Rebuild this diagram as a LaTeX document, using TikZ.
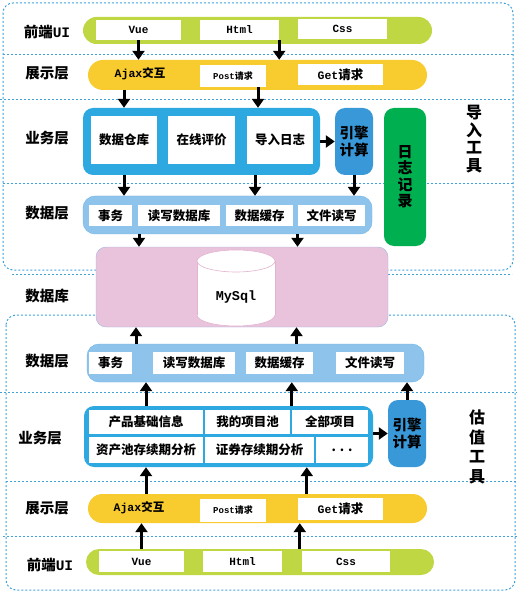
\documentclass[tikz,border=0pt]{standalone}
\usepackage{fontspec}
\setmainfont{Noto Sans CJK SC}
\newfontfamily\monofam{Liberation Mono}
\usetikzlibrary{arrows.meta}
\definecolor{dashc}{HTML}{3FA3D9}
\definecolor{limec}{HTML}{BED742}
\definecolor{yelc}{HTML}{F8CB2E}
\definecolor{bizc}{HTML}{2EA8E0}
\definecolor{engc}{HTML}{3898D8}
\definecolor{logc}{HTML}{00AF50}
\definecolor{datc}{HTML}{8EC4EC}
\definecolor{datb}{HTML}{6DB3E8}
\definecolor{pinkf}{HTML}{E9C3DB}
\definecolor{pinkb}{HTML}{9FB5E3}
\definecolor{cylb}{HTML}{E3B3CF}
\newcommand\mnt[1]{{\monofam\bfseries #1}}
\tikzset{
  every node/.style={inner sep=0pt},
  layer/.style={font=\fontsize{14.5}{16}\selectfont\bfseries},
  wbox/.style={fill=white, font=\fontsize{12.5}{14}\selectfont\bfseries},
  mbox/.style={fill=white, font=\fontsize{11}{13}\selectfont\bfseries},
  arr/.style={black, line width=3pt, -{Triangle[length=9pt,width=12pt]}},
  dline/.style={dashc, line width=1pt, dash pattern=on 2pt off 2pt},
  bar/.style={rounded corners=#1},
  vtext/.style={align=center, font=\fontsize{16}{17.5}\selectfont\bfseries},
}
\begin{document}
\begin{tikzpicture}[x=1pt,y=-1pt]
\useasboundingbox (0,0) rectangle (529,601);
% dashed frames
\draw[dline, rounded corners=10] (3,3) rectangle (513,270);
\draw[dline] (3,55) -- (513,55);
\draw[dline] (0,100) -- (513,100);
\draw[dline] (3,184) -- (513,184);
\draw[dline] (12,274) -- (512,274);
\draw[dline, rounded corners=10] (6,315) rectangle (515,590);
\draw[dline] (0,392) -- (517,392);
\draw[dline] (6,481) -- (517,481);
\draw[dline] (3,536) -- (517,536);

% layer labels
\node[layer] (l1) at (47,32) {前端\mnt{UI}};
\node[layer] (l2) at (47,73) {展示层};
\node[layer] (l3) at (47,138) {业务层};
\node[layer] (l4) at (47,213) {数据层};
\node[layer] (l5) at (47,296) {数据库};
\node[layer] (l6) at (47,361) {数据层};
\node[layer] (l7) at (40,438) {业务层};
\node[layer] (l8) at (47,508) {展示层};
\node[layer] (l9) at (50,565) {前端\mnt{UI}};

% ===== top: 前端UI
\node[bar=13.5, fill=limec, minimum width=349, minimum height=27] (qd1) at (257.5,30.5) {};
\node[mbox, minimum width=85, minimum height=20] (vue1) at (138.5,30) {\mnt{Vue}};
\node[mbox, minimum width=79, minimum height=20] (html1) at (239.5,30) {\mnt{Html}};
\node[mbox, minimum width=89, minimum height=20] (css1) at (342.5,29) {\mnt{Css}};
% 展示层
\node[bar=15, fill=yelc, minimum width=339, minimum height=30] (zs1) at (257.5,75) {};
\node[font=\fontsize{13.5}{15}\selectfont\bfseries] (ajax1) at (140,74) {\fontsize{11.5}{13}\selectfont\mnt{Ajax}交互};
\node[fill=white, minimum width=66, minimum height=22, font=\fontsize{9}{10}\selectfont\bfseries] (post1) at (233,76) {\mnt{Post}请求};
\node[fill=white, minimum width=85, minimum height=21, font=\fontsize{12.5}{14}\selectfont\bfseries] (get1) at (340.5,74.5) {{\fontsize{11.5}{13}\selectfont\mnt{Get}}请求};
% 业务层
\node[bar=10, fill=bizc, minimum width=237, minimum height=67] (yw1) at (201.5,141.5) {};
\node[wbox, minimum width=66, minimum height=48] (sjck1) at (124,140) {数据仓库};
\node[wbox, minimum width=67, minimum height=48] (zxpj1) at (201.5,140) {在线评价};
\node[wbox, minimum width=66, minimum height=48] (drrz1) at (280,140) {导入日志};
\node[bar=10, fill=engc, minimum width=38, minimum height=67, align=center, font=\fontsize{14.5}{16.5}\selectfont\bfseries] (yq1) at (354,141.5) {引擎\\计算};
\node[bar=10, fill=logc, minimum width=42, minimum height=138, align=center, font=\fontsize{15}{16.5}\selectfont\bfseries] (rz1) at (405,177) {日\\志\\记\\录};
\node[vtext] (drgj) at (474,139) {导\\入\\工\\具};
% 数据层
\node[bar=12, fill=datc, draw=datb, minimum width=289, minimum height=38] (sj1) at (227.5,215) {};
\node[wbox, minimum width=43, minimum height=21] (sw1) at (110.5,215.5) {事务};
\node[wbox, minimum width=82, minimum height=21] (dx1) at (179,215.5) {读写数据库};
\node[wbox, minimum width=67, minimum height=21] (hc1) at (259.5,215.5) {数据缓存};
\node[wbox, minimum width=67, minimum height=21] (wj1) at (331.5,215.5) {文件读写};

% ===== 数据库
\node[bar=10, fill=pinkf, draw=pinkb, minimum width=292, minimum height=80] (db) at (242,287) {};
\fill[white] (236,315) ellipse[x radius=39, y radius=11];
\fill[white] (197,261) rectangle (275,315);
\begin{scope}
\clip (150,315) rectangle (320,340);
\draw[cylb, line width=0.6pt] (236,315) ellipse[x radius=39, y radius=11];
\end{scope}
\draw[cylb, line width=0.6pt] (197,261) -- (197,315) (275,261) -- (275,315);
\draw[cylb, line width=0.6pt, fill=white] (236,261) ellipse[x radius=39, y radius=11];
\node[font=\fontsize{13.5}{15}\selectfont] (mysql) at (236,297) {\mnt{MySql}};

% ===== bottom: 数据层
\node[bar=12, fill=datc, draw=datb, minimum width=337, minimum height=38] (sj2) at (255.5,363) {};
\node[wbox, minimum width=43, minimum height=22] (sw2) at (110.5,363) {事务};
\node[wbox, minimum width=82, minimum height=22] (dx2) at (194,363) {读写数据库};
\node[wbox, minimum width=67, minimum height=22] (hc2) at (279.5,363) {数据缓存};
\node[wbox, minimum width=68, minimum height=22] (wj2) at (370,363) {文件读写};
% 业务层
\node[bar=10, fill=bizc, minimum width=289, minimum height=61] (yw2) at (228.5,436.5) {};
\node[wbox, minimum width=114, minimum height=24] (cp2) at (146,422) {产品基础信息};
\node[wbox, minimum width=85, minimum height=24] (wd2) at (247.5,422) {我的项目池};
\node[wbox, minimum width=76, minimum height=24] (qb2) at (330,422) {全部项目};
\node[wbox, minimum width=114, minimum height=26] (zc2) at (146,450) {资产池存续期分析};
\node[wbox, minimum width=109, minimum height=26] (zq2) at (259.5,450) {证券存续期分析};
\node[wbox, minimum width=52, minimum height=26] (dd2) at (342,450) {. . .};
\node[bar=10, fill=engc, minimum width=38, minimum height=67, align=center, font=\fontsize{14.5}{16.5}\selectfont\bfseries] (yq2) at (407,433.5) {引擎\\计算};
\node[vtext, font=\fontsize{16}{19.5}\selectfont\bfseries] (gzgj) at (477,447) {估\\值\\工\\具};
% 展示层
\node[bar=14.5, fill=yelc, minimum width=339, minimum height=29] (zs2) at (257.5,508.5) {};
\node[font=\fontsize{13.5}{15}\selectfont\bfseries] (ajax2) at (139,508) {\fontsize{11.5}{13}\selectfont\mnt{Ajax}交互};
\node[fill=white, minimum width=66, minimum height=23, font=\fontsize{9}{10}\selectfont\bfseries] (post2) at (233,510.5) {\mnt{Post}请求};
\node[fill=white, minimum width=85, minimum height=22, font=\fontsize{12.5}{14}\selectfont\bfseries] (get2) at (340.5,509) {{\fontsize{11.5}{13}\selectfont\mnt{Get}}请求};
% 前端UI
\node[bar=13, fill=limec, minimum width=348, minimum height=26] (qd2) at (260,562) {};
\node[mbox, minimum width=85, minimum height=21] (vue2) at (141.5,561.5) {\mnt{Vue}};
\node[mbox, minimum width=79, minimum height=21] (html2) at (242.5,561.5) {\mnt{Html}};
\node[mbox, minimum width=88, minimum height=21] (css2) at (346,561.5) {\mnt{Css}};

% ===== arrows top
\draw[arr] (vue1.south) -- (vue1.south |- zs1.north);
\draw[arr] (html1.south east) -- (html1.south east |- zs1.north);
\draw[arr] (zs1.south -| sjck1) -- (yw1.north -| sjck1);
\draw[arr] ([xshift=25pt]post1.south) -- ([xshift=25pt]post1.south |- yw1.north);
\draw[arr] (yw1.east) -- (yq1.west);
\draw[arr] (yw1.south -| sjck1) -- (sj1.north -| sjck1);
\draw[arr] ([xshift=-25pt]drrz1.south |- yw1.south) -- ([xshift=-25pt]drrz1.south |- sj1.north);
\draw[arr] (yq1.south) -- (yq1.south |- sj1.north);
\draw[arr] ([xshift=-40pt]dx1.south |- sj1.south) -- ([xshift=-40pt]dx1.south |- db.north);
\draw[arr] ([xshift=-34pt]wj1.south |- sj1.south) -- ([xshift=-34pt]wj1.south |- db.north);
% arrows bottom
\draw[arr] ([xshift=-58pt]dx2.north |- sj2.north) -- ([xshift=-58pt]dx2.north |- db.south);
\draw[arr] ([xshift=17pt]hc2.north |- sj2.north) -- ([xshift=17pt]hc2.north |- db.south);
\draw[arr] (cp2.north |- yw2.north) -- (cp2.north |- sj2.south);
\draw[arr] (qb2.north west |- yw2.north) -- (qb2.north west |- sj2.south);
\draw[arr] (yw2.east |- yq2.west) -- (yq2.west);
\draw[arr] (yq2.north) -- (yq2.north |- sj2.south);
\draw[arr] (cp2.south |- zs2.north) -- (cp2.south |- yw2.south);
\draw[arr] ([xshift=9pt]get2.north west |- zs2.north) -- ([xshift=9pt]get2.north west |- yw2.south);
\draw[arr] (vue2.north |- qd2.north) -- (vue2.north |- zs2.south);
\draw[arr] ([xshift=-2pt]css2.north west |- qd2.north) -- ([xshift=-2pt]css2.north west |- zs2.south);
\end{tikzpicture}
\end{document}
